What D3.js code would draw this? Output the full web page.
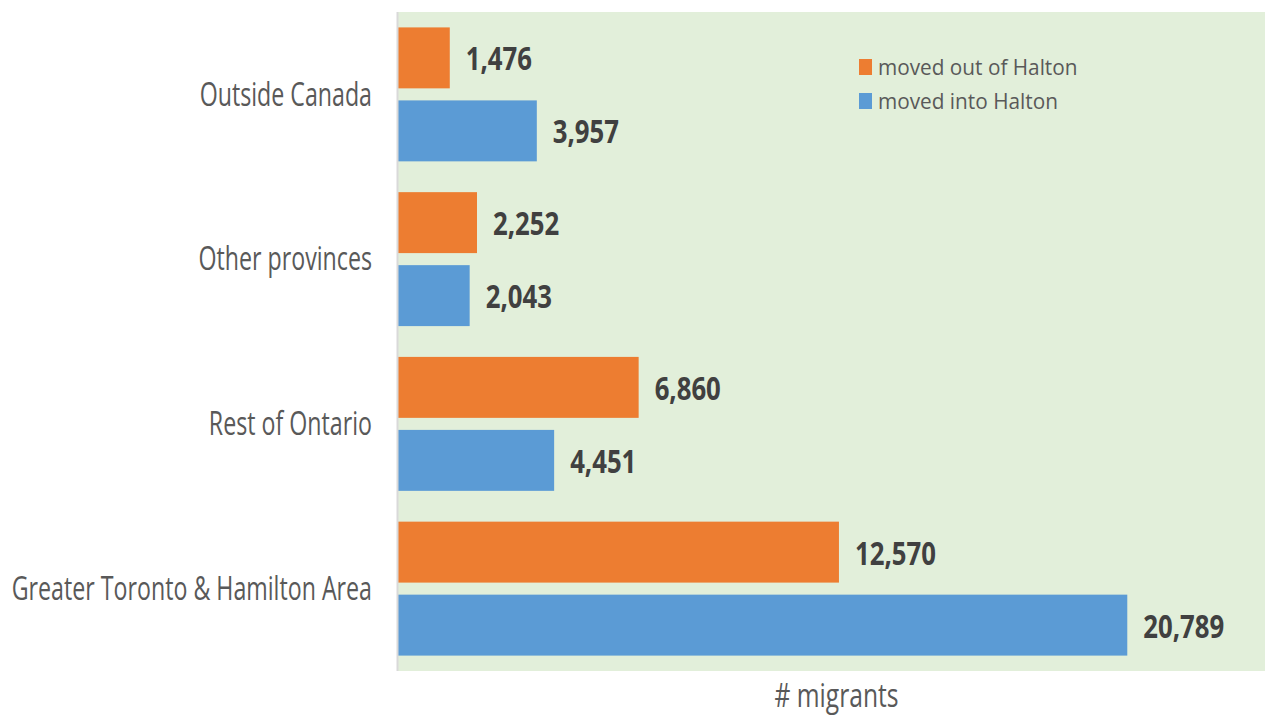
<!DOCTYPE html>
<html>
<head>
<meta charset="utf-8">
<script src="https://cdn.jsdelivr.net/npm/d3@7"></script>
<style>
  body { margin: 0; background: #fff; }
  svg text { font-family: "Open Sans", sans-serif; }
</style>
</head>
<body>
<div id="chart"></div>
<script>
var categories = ["Outside Canada", "Other provinces", "Rest of Ontario", "Greater Toronto & Hamilton Area"];
var seriesNames = ["moved out of Halton", "moved into Halton"];
var movedOut = [1476, 2252, 6860, 12570];
var movedIn = [3957, 2043, 4451, 20789];
var colors = ["#ed7d31", "#5b9bd5"];

var width = 1265, height = 716;
var plot = {left: 398, right: 1275, top: 12, bottom: 671};

var data = categories.map(function(c, i) {
  return {cat: c, values: [{s: 0, v: movedOut[i]}, {s: 1, v: movedIn[i]}]};
});

var svg = d3.select("#chart").append("svg")
    .attr("width", width)
    .attr("height", height);

var x = d3.scaleLinear()
    .domain([0, 25000])
    .range([plot.left, plot.right]);

var y = d3.scaleBand()
    .domain(categories)
    .range([plot.top, plot.bottom])
    .paddingInner(0.187)
    .paddingOuter(0.0935);

var ySub = d3.scaleBand()
    .domain([0, 1])
    .range([0, y.bandwidth()])
    .paddingInner(0.165);

// plot background
svg.append("rect")
    .attr("x", plot.left)
    .attr("y", plot.top)
    .attr("width", plot.right - plot.left)
    .attr("height", plot.bottom - plot.top)
    .attr("fill", "#e2efda");

var groups = svg.selectAll(".cat")
    .data(data)
  .enter().append("g")
    .attr("class", "cat")
    .attr("transform", function(d) { return "translate(0," + y(d.cat) + ")"; });

groups.selectAll("rect")
    .data(function(d) { return d.values; })
  .enter().append("rect")
    .attr("x", x(0))
    .attr("y", function(d) { return ySub(d.s); })
    .attr("width", function(d) { return x(d.v) - x(0); })
    .attr("height", ySub.bandwidth())
    .attr("fill", function(d) { return colors[d.s]; });

groups.selectAll(".val")
    .data(function(d) { return d.values; })
  .enter().append("text")
    .attr("class", "val")
    .attr("transform", function(d) {
      return "translate(" + (x(d.v) + 16) + "," + (ySub(d.s) + ySub.bandwidth() / 2) + ") scale(0.78,1)";
    })
    .attr("dy", "0.38em")
    .attr("font-size", 33)
    .attr("font-weight", "bold")
    .attr("fill", "#404040")
    .text(function(d) { return d3.format(",")(d.v); });

// y axis line + category labels
svg.append("line")
    .attr("x1", plot.left - 0.5).attr("x2", plot.left - 0.5)
    .attr("y1", plot.top).attr("y2", plot.bottom)
    .attr("stroke", "#d9d9d9")
    .attr("stroke-width", 2);

svg.selectAll(".catlabel")
    .data(categories)
  .enter().append("text")
    .attr("class", "catlabel")
    .attr("transform", function(d) { return "translate(372," + (y(d) + y.bandwidth() / 2) + ") scale(0.725,1)"; })
    .attr("dy", "0.35em")
    .attr("text-anchor", "end")
    .attr("font-size", 32)
    .attr("fill", "#595959")
    .text(function(d) { return d; });

// axis title
svg.append("text")
    .attr("transform", "translate(" + ((plot.left + plot.right) / 2) + ",707) scale(0.77,1)")
    .attr("text-anchor", "middle")
    .attr("font-size", 32)
    .attr("fill", "#595959")
    .text("# migrants");

// legend
var legend = svg.selectAll(".legend")
    .data(seriesNames)
  .enter().append("g")
    .attr("class", "legend")
    .attr("transform", function(d, i) { return "translate(859," + (59 + i * 34) + ")"; });

legend.append("rect")
    .attr("width", 13)
    .attr("height", 16)
    .attr("fill", function(d, i) { return colors[i]; });

legend.append("text")
    .attr("transform", "translate(19,16) scale(0.99,1)")
    .attr("font-size", 21)
    .attr("fill", "#595959")
    .text(function(d) { return d; });
</script>
</body>
</html>
